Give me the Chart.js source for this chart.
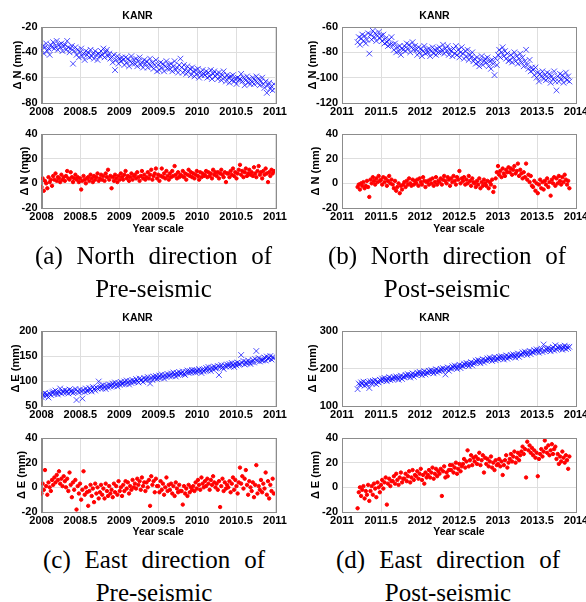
<!DOCTYPE html>
<html>
<head>
<meta charset="utf-8">
<script src="https://cdn.jsdelivr.net/npm/chart.js@4"></script>
<style>
  html, body { margin: 0; padding: 0; background: #fff; }
  body { width: 586px; height: 602px; position: relative; overflow: hidden; }
  canvas { position: absolute; }
  .cap { position: absolute; font-family: "Liberation Serif", "Times New Roman", serif; font-size: 25px; line-height: 33px; color: #000; }
  .cap .l1 { display: flex; justify-content: space-between; white-space: nowrap; }
  .cap .l2 { text-align: center; white-space: nowrap; }
</style>
</head>
<body>
<canvas id="nPre" width="293" height="120" style="left:0;top:0"></canvas>
<canvas id="nPost" width="310" height="120" style="left:293px;top:0"></canvas>
<canvas id="nPreRes" width="293" height="115" style="left:0;top:120px"></canvas>
<canvas id="nPostRes" width="310" height="115" style="left:293px;top:120px"></canvas>
<canvas id="ePre" width="293" height="120" style="left:0;top:302px"></canvas>
<canvas id="ePost" width="310" height="120" style="left:293px;top:302px"></canvas>
<canvas id="ePreRes" width="293" height="118" style="left:0;top:422px"></canvas>
<canvas id="ePostRes" width="310" height="118" style="left:293px;top:422px"></canvas>

<div class="cap" style="left:35px;top:239px;width:237px"><div class="l1"><span>(a)</span><span>North</span><span>direction</span><span>of</span></div><div class="l2">Pre-seismic</div></div>
<div class="cap" style="left:328px;top:239px;width:238px"><div class="l1"><span>(b)</span><span>North</span><span>direction</span><span>of</span></div><div class="l2">Post-seismic</div></div>
<div class="cap" style="left:43px;top:543px;width:222px"><div class="l1"><span>(c)</span><span>East</span><span>direction</span><span>of</span></div><div class="l2">Pre-seismic</div></div>
<div class="cap" style="left:336px;top:543px;width:224px"><div class="l1"><span>(d)</span><span>East</span><span>direction</span><span>of</span></div><div class="l2">Post-seismic</div></div>

<script>
// time stamps: pre-seismic 2008.000 .. 2010.985, post-seismic 2011.200 .. 2013.915 (every 0.015 yr)
const preYears = Array.from({ length: 200 }, (_, i) => 2008 + i * 0.015);
const postYears = Array.from({ length: 182 }, (_, i) => 2011.2 + i * 0.015);

const preTicks = [2008, 2008.5, 2009, 2009.5, 2010, 2010.5, 2011];
const postTicks = [2011, 2011.5, 2012, 2012.5, 2013, 2013.5, 2014];

// north, pre-seismic (mm)
const northPre = [
  -38, -35, -41, -36, -33, -39, -37, -42, -34, -36,
  -32, -37, -35, -31, -38, -34, -36, -33, -39, -35,
  -34, -38, -31, -36, -40, -37, -35, -49, -39, -36,
  -42, -38, -44, -40, -37, -43, -41, -46, -39, -42,
  -40, -44, -38, -43, -41, -45, -39, -42, -46, -41,
  -43, -39, -42, -37, -44, -40, -38, -43, -41, -45,
  -44, -48, -42, -54, -46, -43, -49, -45, -47, -44,
  -46, -50, -44, -48, -45, -51, -47, -43, -49, -46,
  -49, -45, -51, -47, -44, -50, -48, -52, -46, -49,
  -47, -52, -49, -45, -51, -48, -53, -50, -46, -55,
  -50, -54, -48, -52, -49, -55, -51, -47, -53, -50,
  -53, -49, -55, -51, -47, -54, -52, -56, -50, -45,
  -52, -56, -50, -54, -57, -51, -55, -53, -58, -52,
  -55, -59, -54, -57, -53, -60, -56, -58, -54, -57,
  -58, -55, -60, -56, -59, -54, -61, -57, -55, -59,
  -57, -61, -56, -59, -62, -58, -55, -60, -63, -58,
  -60, -64, -59, -62, -58, -63, -61, -65, -60, -62,
  -61, -57, -63, -60, -66, -62, -59, -64, -61, -65,
  -63, -60, -65, -62, -59, -64, -61, -66, -63, -60,
  -65, -68, -63, -72, -66, -64, -69, -67, -70, -65
];
const northPreRes = [
  -3, 4, -6, 2, 0, -4, 5, 1, 3, -2,
  6, 3, 8, 2, 5, 4, 1, 7, 3, 5,
  2, 6, 10, 4, 3, 9, 5, 1, 4, 7,
  3, 5, 1, 4, -5, 2, 6, 3, 0, 4,
  5, 2, 7, 4, 1, 6, 3, 5, 8, 2,
  4, 7, 3, 6, 2, 8, 5, 11, 3, 6,
  -4, 5, 2, 7, 4, 1, 6, 3, 8, 5,
  3, 7, 10, 4, 6, 2, 5, 8, 3, 6,
  7, 4, 9, 5, 2, 6, 10, 4, 7, 3,
  5, 9, 4, 7, 11, 3, 6, 8, 12, 4,
  7, 2, 6, 12, 5, 8, 4, 10, 6, 3,
  8, 5, 10, 6, 14, 7, 4, 9, 5, 7,
  6, 10, 5, 8, 3, 7, 11, 6, 9, 5,
  8, 4, 7, 10, 6, 3, 9, 5, 8, 6,
  7, 10, 5, 9, 6, 8, 4, 11, 7, 9,
  6, 9, 4, 8, 11, 7, 5, 9, 1, 8,
  8, 5, 10, 7, 12, 6, 9, 4, 8, 11,
  15, 7, 10, 5, 9, 12, 6, 8, 11, 7,
  9, 6, 13, 8, 5, 10, 14, 7, 9, 4,
  10, 7, 12, 8, 1, 9, 6, 11, 8, 10
];

// north, post-seismic (mm)
const northPost = [
  -72, -68, -74, -69, -66, -71, -67, -73, -70, -65,
  -81, -66, -70, -63, -68, -65, -71, -67, -64, -69,
  -67, -71, -66, -73, -69, -72, -75, -70, -74, -68,
  -74, -78, -73, -80, -76, -79, -75, -82, -77, -78,
  -75, -79, -73, -77, -74, -80, -76, -72, -78, -75,
  -78, -82, -76, -80, -77, -83, -79, -75, -81, -78,
  -80, -77, -83, -79, -76, -81, -78, -82, -77, -80,
  -76, -80, -78, -74, -81, -77, -79, -75, -82, -78,
  -79, -83, -77, -81, -75, -82, -78, -84, -80, -76,
  -81, -85, -79, -83, -78, -86, -82, -84, -80, -87,
  -85, -89, -84, -88, -91, -86, -83, -90, -87, -85,
  -88, -84, -91, -87, -93, -86, -89, -98, -85, -90,
  -82, -78, -84, -80, -76, -83, -79, -85, -81, -87,
  -86, -82, -88, -84, -80, -87, -83, -89, -85, -81,
  -88, -84, -91, -87, -78, -90, -93, -86, -95, -92,
  -94, -98, -92, -100, -96, -103, -97, -99, -95, -101,
  -98, -102, -96, -100, -97, -104, -99, -101, -95, -103,
  -110, -99, -103, -97, -101, -98, -104, -100, -96, -102,
  -99, -103
];
const northPostRes = [
  -3, -1, -5, 0, -2, 1, -4, -2, 2, -3,
  -11, 3, 0, 5, 2, -1, 4, 1, 6, 2,
  3, -1, 5, 1, 4, -2, 2, 6, 0, 3,
  -1, -4, 2, -6, -3, 0, -8, -2, -5, -1,
  1, -3, 2, -1, 4, 0, -2, 3, -1, 2,
  0, 3, -2, 4, 1, -1, 5, 2, -3, 1,
  2, -1, 3, 0, 4, -2, 1, 5, -1, 2,
  1, 4, -1, 3, 6, 2, 0, 5, 3, -2,
  4, 1, 6, 2, -1, 5, 3, 10, 0, 4,
  2, 5, -1, 3, 0, 6, 2, -2, 4, 1,
  0, -3, 2, -1, 4, -4, 1, -2, 3, 0,
  -2, 2, -4, 1, -1, 3, -7, -3, 4, 9,
  14, 7, 10, 5, 12, 8, 6, 11, 9, 13,
  9, 12, 7, 11, 14, 8, 10, 16, 6, 11,
  8, 4, 9, 5, 16, 3, 7, 1, 6, -2,
  -3, 2, -6, 0, -8, -1, 3, -4, 1, -5,
  2, -1, 4, -3, 1, -10, 3, 0, 5, -2,
  4, 0, 6, 2, -1, 5, 1, 7, 3, -1,
  2, -4
];

// east, pre-seismic (mm)
const eastPre = [
  68, 74, 70, 76, 71, 73, 67, 75, 72, 77,
  79, 74, 81, 76, 73, 78, 85, 75, 80, 77,
  82, 77, 80, 75, 83, 78, 81, 76, 79, 84,
  62, 80, 77, 83, 79, 65, 82, 78, 85, 80,
  81, 86, 83, 79, 88, 84, 81, 87, 85, 99,
  86, 90, 85, 92, 88, 84, 91, 87, 93, 89,
  91, 95, 90, 97, 93, 89, 96, 92, 98, 94,
  95, 99, 94, 101, 97, 93, 100, 96, 102, 98,
  99, 104, 100, 97, 105, 101, 103, 98, 106, 102,
  104, 108, 103, 95, 107, 102, 109, 105, 110, 104,
  107, 111, 106, 113, 109, 105, 112, 108, 114, 110,
  111, 115, 110, 117, 113, 109, 116, 112, 118, 114,
  115, 119, 114, 112, 118, 121, 116, 120, 117, 122,
  118, 122, 117, 121, 119, 124, 120, 116, 123, 119,
  122, 126, 121, 128, 124, 120, 127, 123, 129, 125,
  126, 130, 112, 128, 132, 127, 124, 131, 129, 133,
  130, 134, 129, 136, 132, 128, 135, 131, 137, 133,
  134, 152, 136, 140, 133, 138, 135, 141, 137, 134,
  138, 142, 137, 144, 160, 140, 146, 139, 143, 141,
  142, 147, 141, 149, 144, 146, 150, 143, 148, 145
];
const eastPreRes = [
  -5, 3, -2, 14, 1, -6, 4, 0, -3, 6,
  2, 8, 4, 10, 6, 13, 3, 7, 1, 9,
  5, 0, 7, -3, 12, 2, -8, 4, -2, 6,
  -18, 1, -5, 3, -10, -2, 13, -6, 0, -4,
  -15, -3, 2, -7, -1, -12, 3, -5, 0, -9,
  -4, 2, -6, -1, -9, 3, -3, -7, 1, -5,
  -2, -8, 3, -4, 1, -6, 5, -3, 0, -7,
  2, -3, 5, -1, 4, -5, 1, -2, 6, 0,
  3, -1, 7, 2, 5, -2, 8, 1, 4, -3,
  4, 0, 6, -15, 9, 2, 5, -4, 7, 1,
  1, -4, 5, -2, 3, -6, 0, 8, -3, 2,
  -2, 3, -5, 1, -7, 4, -1, -4, 2, -3,
  -3, -14, 1, -5, -1, -7, 2, -4, 0, -2,
  1, -3, 4, -1, 6, 2, -2, 8, 3, 0,
  5, 1, 7, 3, -2, 6, 2, 9, 4, 0,
  3, -2, 5, -16, 1, 7, -3, 4, -1, 2,
  0, 5, -4, 3, 8, -2, 6, 1, -5, 4,
  16, 3, 9, -1, 7, 14, 2, -6, 5, 0,
  -3, 4, -8, 2, 18, -5, 1, -2, 6, -4,
  3, -1, 12, -6, 5, -9, 2, -3, 7, -5
];

// east, post-seismic (mm)
const eastPost = [
  145, 160, 156, 163, 158, 165, 154, 161, 157, 164,
  148, 166, 160, 167, 162, 169, 158, 165, 163, 170,
  167, 173, 168, 175, 170, 166, 172, 177, 169, 174,
  171, 177, 173, 179, 175, 170, 176, 181, 172, 178,
  177, 183, 179, 185, 181, 176, 182, 187, 178, 184,
  183, 189, 185, 191, 187, 182, 188, 193, 184, 190,
  188, 194, 190, 196, 192, 187, 193, 198, 189, 195,
  193, 199, 195, 201, 197, 184, 198, 203, 194, 200,
  200, 206, 202, 208, 204, 199, 205, 210, 201, 207,
  207, 213, 209, 215, 211, 206, 212, 217, 208, 214,
  215, 221, 217, 223, 219, 214, 220, 225, 216, 222,
  221, 227, 223, 229, 225, 220, 226, 231, 222, 228,
  225, 231, 227, 233, 229, 224, 230, 235, 226, 232,
  230, 236, 232, 238, 234, 229, 235, 240, 231, 237,
  237, 243, 239, 245, 241, 236, 242, 247, 238, 244,
  243, 249, 245, 251, 247, 242, 248, 253, 244, 264,
  247, 253, 249, 255, 251, 246, 252, 257, 248, 262,
  251, 257, 253, 259, 255, 250, 256, 261, 252, 258,
  254, 258
];
const eastPostRes = [
  -17, -4, 0, -7, -2, 1, -9, -3, -6, 2,
  -11, -3, 1, -6, 3, -1, -8, 4, 0, -4,
  2, 6, -1, 4, 8, -14, 3, 7, 1, 5,
  5, 9, 3, 11, 6, 2, 8, 12, 4, 7,
  7, 11, 5, 9, 13, 4, 8, 14, 6, 10,
  9, 13, 7, 11, 15, 6, 10, 3, 12, 8,
  10, 14, 8, 12, 16, 7, 11, 15, 9, 13,
  11, 15, -7, 13, 17, 8, 12, 9, 14, 18,
  14, 18, 12, 16, 20, 11, 15, 19, 13, 17,
  19, 23, 16, 21, 30, 17, 22, 26, 18, 24,
  21, 25, 19, 23, 28, 18, 22, 26, 12, 24,
  19, 23, 17, 21, 25, 16, 20, 14, 22, 18,
  19, 23, 17, 21, 10, 18, 22, 26, 16, 20,
  23, 27, 21, 25, 29, 20, 24, 28, 22, 26,
  29, 33, 27, 31, 8, 37, 30, 34, 28, 32,
  26, 30, 24, 28, 9, 23, 27, 31, 25, 29,
  38, 32, 28, 34, 26, 30, 35, 27, 31, 33,
  23, 27, 19, 25, 21, 29, 24, 20, 26, 22,
  15, 25
];

const FONT = 'Liberation Sans, Arial, sans-serif';
const FRAME = '#8c8c8c';
const GRID = '#dedede';

const boxFrame = {
  id: 'boxFrame',
  afterDatasetsDraw(chart) {
    const { ctx, chartArea: a } = chart;
    ctx.save();
    ctx.strokeStyle = FRAME;
    ctx.lineWidth = 1;
    ctx.strokeRect(Math.round(a.left) + 0.5, Math.round(a.top) + 0.5,
      Math.round(a.right - a.left), Math.round(a.bottom - a.top));
    ctx.restore();
  }
};

function pts(xs, ys) {
  return ys.map((y, i) => ({ x: xs[i], y }));
}

function plot(id, o) {
  const ctx = document.getElementById(id).getContext('2d');
  const isTop = o.kind === 'top';
  new Chart(ctx, {
    type: 'scatter',
    data: {
      datasets: [{
        data: pts(o.xs, o.ys),
        pointStyle: isTop ? 'crossRot' : 'circle',
        radius: isTop ? 4 : 1.7,
        borderWidth: 1,
        borderColor: isTop ? 'rgba(0,0,255,0.7)' : '#ff0000',
        backgroundColor: isTop ? 'rgba(0,0,255,0.7)' : '#ff0000'
      }]
    },
    options: {
      responsive: false,
      animation: false,
      devicePixelRatio: 1,
      layout: { padding: { top: o.padTop || 0, right: o.padRight, left: 0, bottom: 0 } },
      plugins: {
        legend: { display: false },
        tooltip: { enabled: false },
        title: {
          display: isTop,
          text: 'KANR',
          color: '#000',
          font: { family: FONT, size: 10.5, weight: 'bold' },
          padding: { top: o.titleTop || 10, bottom: o.titleBottom || 4.4 }
        }
      },
      scales: {
        x: {
          type: 'linear',
          min: o.ticksX[0],
          max: o.ticksX[o.ticksX.length - 1],
          afterBuildTicks: s => { s.ticks = o.ticksX.map(v => ({ value: v })); },
          afterFit: s => { s.height = o.xHeight; },
          grid: { color: GRID, drawTicks: false },
          border: { color: FRAME },
          ticks: {
            color: '#000', padding: 2, maxRotation: 0, autoSkip: false,
            font: { family: FONT, size: 11, weight: 'bold' },
            callback: v => String(v)
          },
          title: {
            display: !isTop,
            text: 'Year scale',
            color: '#000',
            font: { family: FONT, size: 10.5, weight: 'bold' },
            padding: { top: 0, bottom: o.xTitlePad || 0 }
          }
        },
        y: {
          min: o.ticksY[0],
          max: o.ticksY[o.ticksY.length - 1],
          afterBuildTicks: s => { s.ticks = o.ticksY.map(v => ({ value: v })); },
          afterFit: s => { s.width = o.yWidth; },
          grid: { color: GRID, drawTicks: false },
          border: { color: FRAME },
          ticks: {
            color: '#000', padding: 4,
            font: { family: FONT, size: 11, weight: 'bold' },
            callback: v => String(v)
          },
          title: {
            display: true,
            text: o.yLabel,
            color: '#000',
            font: { family: FONT, size: 11, weight: 'bold' },
            padding: { top: o.yTitlePad, bottom: 0 }
          }
        }
      }
    },
    plugins: [boxFrame]
  });
}

plot('nPre', { kind: 'top', xs: preYears, ys: northPre, ticksX: preTicks, ticksY: [-80, -60, -40, -20],
  yLabel: 'Δ N (mm)', yWidth: 41.5, padRight: 18, xHeight: 17, yTitlePad: 11 });
plot('nPost', { kind: 'top', xs: postYears, ys: northPost, ticksX: postTicks, ticksY: [-120, -100, -80, -60],
  yLabel: 'Δ N (mm)', yWidth: 49, padRight: 27, xHeight: 17, yTitlePad: 13 });
plot('nPreRes', { kind: 'res', xs: preYears, ys: northPreRes, ticksX: preTicks, ticksY: [-20, 0, 20, 40],
  yLabel: 'Δ N (mm)', yWidth: 41.5, padRight: 18, padTop: 14, xHeight: 27, yTitlePad: 18 });
plot('nPostRes', { kind: 'res', xs: postYears, ys: northPostRes, ticksX: postTicks, ticksY: [-20, 0, 20, 40],
  yLabel: 'Δ N (mm)', yWidth: 49, padRight: 27, padTop: 14, xHeight: 27, yTitlePad: 16 });
plot('ePre', { kind: 'top', xs: preYears, ys: eastPre, ticksX: preTicks, ticksY: [50, 100, 150, 200],
  yLabel: 'Δ E (mm)', yWidth: 41.5, padRight: 18, xHeight: 16, yTitlePad: 9, titleTop: 10, titleBottom: 6.4 });
plot('ePost', { kind: 'top', xs: postYears, ys: eastPost, ticksX: postTicks, ticksY: [100, 200, 300],
  yLabel: 'Δ E (mm)', yWidth: 49, padRight: 27, xHeight: 16, yTitlePad: 13, titleTop: 10, titleBottom: 6.4 });
plot('ePreRes', { kind: 'res', xs: preYears, ys: eastPreRes, ticksX: preTicks, ticksY: [-20, 0, 20, 40],
  yLabel: 'Δ E (mm)', yWidth: 41.5, padRight: 18, padTop: 16, xHeight: 28, yTitlePad: 15, xTitlePad: 1.4 });
plot('ePostRes', { kind: 'res', xs: postYears, ys: eastPostRes, ticksX: postTicks, ticksY: [-20, 0, 20, 40],
  yLabel: 'Δ E (mm)', yWidth: 49, padRight: 27, padTop: 16, xHeight: 28, yTitlePad: 16, xTitlePad: 1.4 });
</script>
</body>
</html>
